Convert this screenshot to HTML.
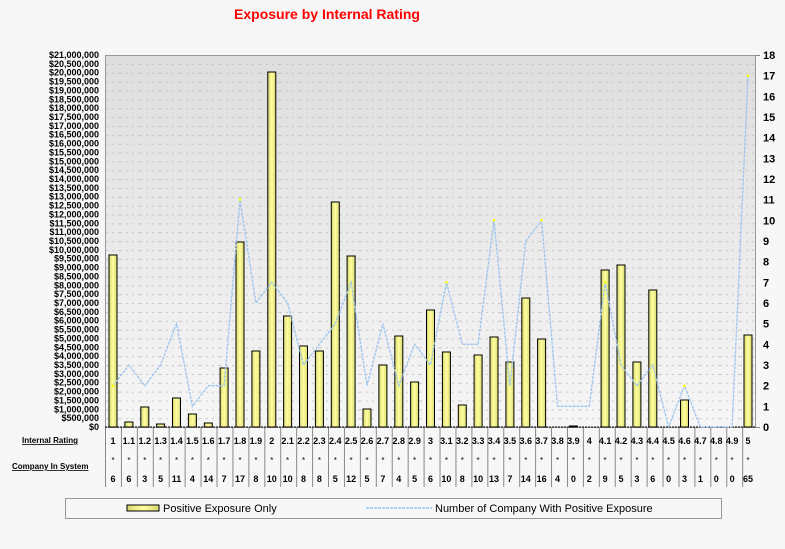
<!DOCTYPE html>
<html><head><meta charset="utf-8"><style>
body{margin:0;background:#f7f7f7;}
svg{display:block;font-family:"Liberation Sans",Arial,sans-serif;}
</style></head><body>
<svg width="785" height="549" viewBox="0 0 785 549" xmlns="http://www.w3.org/2000/svg">
<defs>
<linearGradient id="bg" x1="0" y1="0" x2="0" y2="1">
<stop offset="0" stop-color="#dedede"/><stop offset="1" stop-color="#f6f6f6"/>
</linearGradient>
<pattern id="grid" x="0" y="55.1" width="20" height="8.857" patternUnits="userSpaceOnUse">
<line x1="0" y1="0.5" x2="20" y2="0.5" stroke="#bbb" stroke-width="0.8" stroke-dasharray="2,4"/>
</pattern>
<pattern id="sep" x="105" y="0" width="15.93" height="10" patternUnits="userSpaceOnUse">
<line x1="0.5" y1="0" x2="0.5" y2="10" stroke="#888" stroke-width="1"/>
</pattern>
<linearGradient id="bar" x1="0" y1="0" x2="1" y2="0">
<stop offset="0" stop-color="#d8d870"/><stop offset="0.5" stop-color="#ffffa0"/><stop offset="1" stop-color="#d8d870"/>
</linearGradient>
</defs>
<text x="327" y="19" text-anchor="middle" fill="#ff0000" font-size="14" font-weight="bold">Exposure by Internal Rating</text>
<rect x="105" y="55" width="650" height="372" fill="url(#bg)"/>
<rect x="105" y="55" width="650" height="372" fill="url(#grid)"/>
<rect x="105.5" y="55.5" width="650" height="372" fill="none" stroke="#999" stroke-width="1"/>
<rect x="105" y="427" width="650" height="60" fill="url(#sep)"/>
<line x1="105" y1="427" x2="755" y2="427" stroke="#000" stroke-width="1" stroke-dasharray="2,1"/>
<g fill="url(#bar)" stroke="#000" stroke-width="1">
<rect x="109" y="255" width="8" height="172"/>
<rect x="124.9" y="422" width="8" height="5"/>
<rect x="140.8" y="407" width="8" height="20"/>
<rect x="156.6" y="424" width="8" height="3"/>
<rect x="172.5" y="398" width="8" height="29"/>
<rect x="188.4" y="414" width="8" height="13"/>
<rect x="204.3" y="423" width="8" height="4"/>
<rect x="220.1" y="368" width="8" height="59"/>
<rect x="236" y="242" width="8" height="185"/>
<rect x="251.9" y="351" width="8" height="76"/>
<rect x="267.8" y="72" width="8" height="355"/>
<rect x="283.6" y="316" width="8" height="111"/>
<rect x="299.5" y="346" width="8" height="81"/>
<rect x="315.4" y="351" width="8" height="76"/>
<rect x="331.3" y="202" width="8" height="225"/>
<rect x="347.1" y="256" width="8" height="171"/>
<rect x="363" y="409" width="8" height="18"/>
<rect x="378.9" y="365" width="8" height="62"/>
<rect x="394.8" y="336" width="8" height="91"/>
<rect x="410.6" y="382" width="8" height="45"/>
<rect x="426.5" y="310" width="8" height="117"/>
<rect x="442.4" y="352" width="8" height="75"/>
<rect x="458.3" y="405" width="8" height="22"/>
<rect x="474.1" y="355" width="8" height="72"/>
<rect x="490" y="337" width="8" height="90"/>
<rect x="505.9" y="362" width="8" height="65"/>
<rect x="521.8" y="298" width="8" height="129"/>
<rect x="537.6" y="339" width="8" height="88"/>
<rect x="569.4" y="426" width="8" height="1"/>
<rect x="601.1" y="270" width="8" height="157"/>
<rect x="617" y="265" width="8" height="162"/>
<rect x="632.9" y="362" width="8" height="65"/>
<rect x="648.8" y="290" width="8" height="137"/>
<rect x="680.5" y="400" width="8" height="27"/>
<rect x="744" y="335" width="8" height="92"/>
</g>
<polyline fill="none" stroke="#9cc4ee" stroke-width="1.3" stroke-dasharray="3,1" points="113,385.7 128.9,365 144.8,385.7 160.6,365 176.5,323.7 192.4,406.3 208.3,385.7 224.1,385.7 240,199.6 255.9,303 271.8,282.3 287.6,303 303.5,365 319.4,344.3 335.3,323.7 351.1,282.3 367,385.7 382.9,323.7 398.8,385.7 414.6,344.3 430.5,365 446.4,282.3 462.3,344.3 478.1,344.3 494,220.3 509.9,385.7 525.8,241 541.6,220.3 557.5,406.3 573.4,406.3 589.3,406.3 605.1,282.3 621,365 636.9,385.7 652.8,365 668.6,427 684.5,385.7 700.4,427 716.3,427 732.1,427 748,75.6"/>
<g fill="#ffff00">
<circle cx="113" cy="385.7" r="1.3"/><circle cx="240" cy="199.6" r="1.3"/><circle cx="494" cy="220.3" r="1.3"/><circle cx="541.6" cy="220.3" r="1.3"/><circle cx="748" cy="75.6" r="1.3"/><circle cx="684.5" cy="385.7" r="1.3"/><circle cx="605.1" cy="282.3" r="1.3"/><circle cx="446.4" cy="282.3" r="1.3"/>
</g>
<g font-size="9" font-weight="bold" text-anchor="end" fill="#000">
<text x="99" y="430">$0</text><text x="99" y="421.1">$500,000</text><text x="99" y="412.3">$1,000,000</text><text x="99" y="403.4">$1,500,000</text><text x="99" y="394.6">$2,000,000</text><text x="99" y="385.7">$2,500,000</text><text x="99" y="376.9">$3,000,000</text><text x="99" y="368">$3,500,000</text><text x="99" y="359.1">$4,000,000</text><text x="99" y="350.3">$4,500,000</text><text x="99" y="341.4">$5,000,000</text><text x="99" y="332.6">$5,500,000</text><text x="99" y="323.7">$6,000,000</text><text x="99" y="314.9">$6,500,000</text><text x="99" y="306">$7,000,000</text><text x="99" y="297.1">$7,500,000</text><text x="99" y="288.3">$8,000,000</text><text x="99" y="279.4">$8,500,000</text><text x="99" y="270.6">$9,000,000</text><text x="99" y="261.7">$9,500,000</text><text x="99" y="252.9">$10,000,000</text><text x="99" y="244">$10,500,000</text><text x="99" y="235.1">$11,000,000</text><text x="99" y="226.3">$11,500,000</text><text x="99" y="217.4">$12,000,000</text><text x="99" y="208.6">$12,500,000</text><text x="99" y="199.7">$13,000,000</text><text x="99" y="190.9">$13,500,000</text><text x="99" y="182">$14,000,000</text><text x="99" y="173.1">$14,500,000</text><text x="99" y="164.3">$15,000,000</text><text x="99" y="155.4">$15,500,000</text><text x="99" y="146.6">$16,000,000</text><text x="99" y="137.7">$16,500,000</text><text x="99" y="128.9">$17,000,000</text><text x="99" y="120">$17,500,000</text><text x="99" y="111.1">$18,000,000</text><text x="99" y="102.3">$18,500,000</text><text x="99" y="93.4">$19,000,000</text><text x="99" y="84.6">$19,500,000</text><text x="99" y="75.7">$20,000,000</text><text x="99" y="66.9">$20,500,000</text><text x="99" y="58">$21,000,000</text>
</g>
<g font-size="11" font-weight="bold" fill="#000">
<text x="763" y="431">0</text><text x="763" y="410.3">1</text><text x="763" y="389.7">2</text><text x="763" y="369">3</text><text x="763" y="348.3">4</text><text x="763" y="327.7">5</text><text x="763" y="307">6</text><text x="763" y="286.3">7</text><text x="763" y="265.7">8</text><text x="763" y="245">9</text><text x="763" y="224.3">10</text><text x="763" y="203.7">11</text><text x="763" y="183">12</text><text x="763" y="162.3">13</text><text x="763" y="141.7">14</text><text x="763" y="121">15</text><text x="763" y="100.3">16</text><text x="763" y="79.7">17</text><text x="763" y="59">18</text>
</g>
<g stroke="#888"><line x1="755" y1="55.5" x2="760" y2="55.5"/><line x1="755" y1="427.5" x2="760" y2="427.5"/></g>
<g font-size="8" font-weight="bold" text-decoration="underline" fill="#000">
<text x="22" y="443">Internal Rating</text>
<text x="12" y="469">Company In System</text>
</g>
<g font-size="9" font-weight="bold" text-anchor="middle" fill="#000">
<text x="113" y="444">1</text><text x="128.9" y="444">1.1</text><text x="144.8" y="444">1.2</text><text x="160.6" y="444">1.3</text><text x="176.5" y="444">1.4</text><text x="192.4" y="444">1.5</text><text x="208.3" y="444">1.6</text><text x="224.1" y="444">1.7</text><text x="240" y="444">1.8</text><text x="255.9" y="444">1.9</text><text x="271.8" y="444">2</text><text x="287.6" y="444">2.1</text><text x="303.5" y="444">2.2</text><text x="319.4" y="444">2.3</text><text x="335.3" y="444">2.4</text><text x="351.1" y="444">2.5</text><text x="367" y="444">2.6</text><text x="382.9" y="444">2.7</text><text x="398.8" y="444">2.8</text><text x="414.6" y="444">2.9</text><text x="430.5" y="444">3</text><text x="446.4" y="444">3.1</text><text x="462.3" y="444">3.2</text><text x="478.1" y="444">3.3</text><text x="494" y="444">3.4</text><text x="509.9" y="444">3.5</text><text x="525.8" y="444">3.6</text><text x="541.6" y="444">3.7</text><text x="557.5" y="444">3.8</text><text x="573.4" y="444">3.9</text><text x="589.3" y="444">4</text><text x="605.1" y="444">4.1</text><text x="621" y="444">4.2</text><text x="636.9" y="444">4.3</text><text x="652.8" y="444">4.4</text><text x="668.6" y="444">4.5</text><text x="684.5" y="444">4.6</text><text x="700.4" y="444">4.7</text><text x="716.3" y="444">4.8</text><text x="732.1" y="444">4.9</text><text x="748" y="444">5</text>
</g>
<g font-size="8" text-anchor="middle" fill="#000">
<text x="113" y="463">*</text><text x="128.9" y="463">*</text><text x="144.8" y="463">*</text><text x="160.6" y="463">*</text><text x="176.5" y="463">*</text><text x="192.4" y="463">*</text><text x="208.3" y="463">*</text><text x="224.1" y="463">*</text><text x="240" y="463">*</text><text x="255.9" y="463">*</text><text x="271.8" y="463">*</text><text x="287.6" y="463">*</text><text x="303.5" y="463">*</text><text x="319.4" y="463">*</text><text x="335.3" y="463">*</text><text x="351.1" y="463">*</text><text x="367" y="463">*</text><text x="382.9" y="463">*</text><text x="398.8" y="463">*</text><text x="414.6" y="463">*</text><text x="430.5" y="463">*</text><text x="446.4" y="463">*</text><text x="462.3" y="463">*</text><text x="478.1" y="463">*</text><text x="494" y="463">*</text><text x="509.9" y="463">*</text><text x="525.8" y="463">*</text><text x="541.6" y="463">*</text><text x="557.5" y="463">*</text><text x="573.4" y="463">*</text><text x="589.3" y="463">*</text><text x="605.1" y="463">*</text><text x="621" y="463">*</text><text x="636.9" y="463">*</text><text x="652.8" y="463">*</text><text x="668.6" y="463">*</text><text x="684.5" y="463">*</text><text x="700.4" y="463">*</text><text x="716.3" y="463">*</text><text x="732.1" y="463">*</text><text x="748" y="463">*</text>
</g>
<g font-size="9" font-weight="bold" text-anchor="middle" fill="#000">
<text x="113" y="482">6</text><text x="128.9" y="482">6</text><text x="144.8" y="482">3</text><text x="160.6" y="482">5</text><text x="176.5" y="482">11</text><text x="192.4" y="482">4</text><text x="208.3" y="482">14</text><text x="224.1" y="482">7</text><text x="240" y="482">17</text><text x="255.9" y="482">8</text><text x="271.8" y="482">10</text><text x="287.6" y="482">10</text><text x="303.5" y="482">8</text><text x="319.4" y="482">8</text><text x="335.3" y="482">5</text><text x="351.1" y="482">12</text><text x="367" y="482">5</text><text x="382.9" y="482">7</text><text x="398.8" y="482">4</text><text x="414.6" y="482">5</text><text x="430.5" y="482">6</text><text x="446.4" y="482">10</text><text x="462.3" y="482">8</text><text x="478.1" y="482">10</text><text x="494" y="482">13</text><text x="509.9" y="482">7</text><text x="525.8" y="482">14</text><text x="541.6" y="482">16</text><text x="557.5" y="482">4</text><text x="573.4" y="482">0</text><text x="589.3" y="482">2</text><text x="605.1" y="482">9</text><text x="621" y="482">5</text><text x="636.9" y="482">3</text><text x="652.8" y="482">6</text><text x="668.6" y="482">0</text><text x="684.5" y="482">3</text><text x="700.4" y="482">1</text><text x="716.3" y="482">0</text><text x="732.1" y="482">0</text><text x="748" y="482">65</text>
</g>
<rect x="65.5" y="498.5" width="656" height="20" fill="none" stroke="#999"/>
<rect x="127" y="505" width="32" height="6" fill="url(#bar)" stroke="#000"/>
<text x="163" y="512" font-size="11" fill="#000">Positive Exposure Only</text>
<line x1="366" y1="508" x2="432" y2="508" stroke="#9cc4ee" stroke-width="1.5" stroke-dasharray="3,1"/>
<text x="435" y="512" font-size="11" fill="#000">Number of Company With Positive Exposure</text>
</svg>
</body></html>
